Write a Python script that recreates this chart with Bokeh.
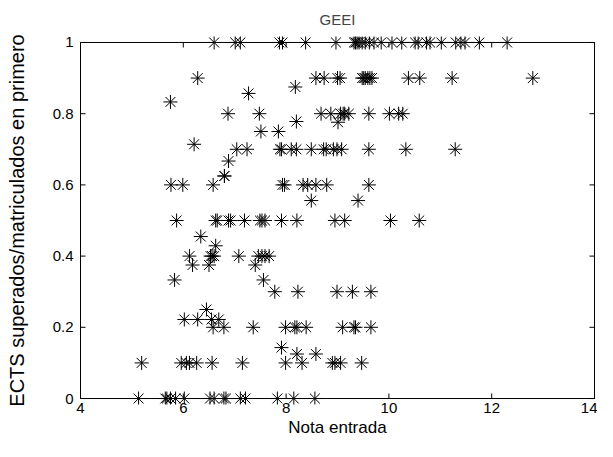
import math
from bokeh.plotting import figure
from bokeh.models import Range1d, LinearAxis, FixedTicker, ColumnDataSource
from bokeh.embed import file_html
from bokeh.resources import INLINE

# Entry grade (x) for each value of ratio (y) level
nota_y100 = [6.60, 7.01, 7.11, 7.87, 7.93, 8.38, 8.97, 9.32, 9.35, 9.38, 9.42, 9.48, 9.54, 9.62,
             9.71, 9.85, 10.06, 10.25, 10.51, 10.57, 10.73, 10.80, 11.02, 11.30, 11.40, 11.48, 11.76, 12.30]
nota_y090 = [6.28, 8.58, 8.74, 9.00, 9.05, 9.48, 9.51, 9.54, 9.59, 9.63, 9.67, 10.38, 10.60, 11.23, 12.80]
nota_y080 = [6.87, 7.48, 8.68, 8.87, 9.06, 9.11, 9.14, 9.22, 9.61, 10.01, 10.19, 10.27]
nota_y070 = [7.04, 7.24, 7.88, 7.91, 8.10, 8.20, 8.49, 8.73, 8.78, 8.92, 8.99, 9.08, 9.61, 10.33, 11.29]
nota_y060 = [5.76, 5.99, 6.58, 7.93, 7.97, 8.33, 8.42, 8.58, 8.79, 9.61]
nota_y050 = [5.87, 6.63, 6.66, 6.88, 6.92, 7.19, 7.49, 7.53, 7.59, 7.91, 8.21, 8.95, 9.14, 10.03, 10.59]
nota_y040 = [6.12, 6.53, 6.56, 6.60, 7.08, 7.46, 7.53, 7.59, 7.67]
nota_y030 = [7.78, 8.23, 8.99, 9.29, 9.65]
nota_y020 = [6.58, 6.79, 7.36, 7.99, 8.17, 8.21, 8.39, 9.10, 9.32, 9.35, 9.65]
nota_y010 = [5.19, 5.96, 6.06, 6.12, 6.26, 6.56, 7.15, 7.99, 8.31, 8.90, 8.95, 9.06, 9.47]
nota_y000 = [5.13, 5.65, 5.68, 5.75, 5.85, 6.02, 6.52, 6.60, 6.79, 6.83, 7.11, 7.21, 7.83, 8.15, 8.56]
levels = [1.0, 0.9, 0.8, 0.7, 0.6, 0.5, 0.4, 0.3, 0.2, 0.1, 0.0]

# Other (non-round) ratios
other_nota = [5.75, 7.27, 8.18, 8.20, 9.01, 7.51, 7.85, 6.21, 6.88, 6.80, 6.80, 8.49, 9.40, 6.34,
              6.63, 6.18, 6.50, 7.40, 5.83, 7.56, 6.45, 6.02, 6.28, 6.55, 6.69, 7.91, 8.21, 8.58]
other_ratio = [0.833, 0.857, 0.875, 0.778, 0.776, 0.75, 0.75, 0.714, 0.667, 0.625, 0.625, 0.556, 0.556, 0.455,
               0.429, 0.375, 0.375, 0.375, 0.333, 0.333, 0.25, 0.222, 0.222, 0.222, 0.222, 0.143, 0.125, 0.125]

x_ticks = [4, 6, 8, 10, 12, 14]
y_ticks = [0, 0.2, 0.4, 0.6, 0.8, 1]
y_tick_labels = {0: "0", 0.2: "0.2", 0.4: "0.4", 0.6: "0.6", 0.8: "0.8", 1: "1"}

rows = [nota_y100, nota_y090, nota_y080, nota_y070, nota_y060, nota_y050,
        nota_y040, nota_y030, nota_y020, nota_y010, nota_y000]
xs, ys = [], []
for lv, row in zip(levels, rows):
    xs += row
    ys += [lv] * len(row)
xs += other_nota
ys += other_ratio
src = ColumnDataSource(dict(x=xs, y=ys))

x_lo, x_hi = x_ticks[0], x_ticks[-1]
y_lo, y_hi = y_ticks[0], y_ticks[-1]

# frame geometry (px); a small margin keeps markers on the box edges whole
W, H = 597, 441
BOX_L, BOX_R, BOX_T, BOX_B = 80, 594, 41, 398
PAD_X, PAD_Y = 3, 6
px_x = (BOX_R - BOX_L) / (x_hi - x_lo)
px_y = (BOX_B - BOX_T) / (y_hi - y_lo)
x_pad = PAD_X / px_x
y_pad = PAD_Y / px_y

FONT = "Liberation Sans"
p = figure(width=W, height=H, output_backend="svg", toolbar_location=None,
           x_range=Range1d(x_lo - x_pad, x_hi + x_pad), y_range=Range1d(y_lo - y_pad, y_hi + y_pad),
           x_axis_location=None, y_axis_location=None,
           min_border_left=BOX_L - PAD_X, min_border_right=W - BOX_R - PAD_X,
           min_border_top=BOX_T - PAD_Y, min_border_bottom=H - BOX_B - PAD_Y,
           title="GEEI")
p.title.align = "center"
p.title.text_font = FONT
p.title.text_font_size = "15px"
p.title.text_font_style = "normal"
p.title.standoff = 17
p.grid.visible = False
p.outline_line_color = None

bottom = LinearAxis(ticker=FixedTicker(ticks=x_ticks), axis_label="Nota entrada")
left = LinearAxis(ticker=FixedTicker(ticks=y_ticks), axis_label="ECTS superados/matriculados en primero",
                  major_label_overrides=y_tick_labels)
for ax in [bottom, left]:
    ax.axis_line_color = None
    ax.major_tick_line_color = None
    ax.minor_tick_line_color = None
    ax.major_tick_in = 0
    ax.major_tick_out = 0
    ax.major_label_text_font = FONT
    ax.major_label_text_font_size = "15px"
    ax.major_label_text_color = "black"
    ax.axis_label_text_font = FONT
    ax.axis_label_text_font_style = "normal"
    ax.axis_label_text_color = "black"
bottom.axis_label_text_font_size = "17px"
left.axis_label_text_font_size = "20px"
bottom.major_label_standoff = -2
bottom.axis_label_standoff = 2
left.major_label_standoff = 4
left.axis_label_standoff = 22
p.add_layout(bottom, "below")
p.add_layout(left, "left")

# axes box (MATLAB style)
p.line(x=[x_lo, x_hi, x_hi, x_lo, x_lo], y=[y_lo, y_lo, y_hi, y_hi, y_lo],
       line_color="black", line_width=1)

# inward ticks of 5 px on all four sides
TICK = 5
p.ray(x=x_ticks, y=[y_lo] * len(x_ticks), length=TICK, length_units="screen",
      angle=math.pi / 2, line_color="black", line_width=1)
p.ray(x=x_ticks, y=[y_hi] * len(x_ticks), length=TICK, length_units="screen",
      angle=-math.pi / 2, line_color="black", line_width=1)
p.ray(x=[x_lo] * len(y_ticks), y=y_ticks, length=TICK, length_units="screen",
      angle=0, line_color="black", line_width=1)
p.ray(x=[x_hi] * len(y_ticks), y=y_ticks, length=TICK, length_units="screen",
      angle=math.pi, line_color="black", line_width=1)

p.scatter("x", "y", source=src, marker="asterisk", size=14, line_color="black", line_width=1)

open("out.html", "w").write(file_html(p, INLINE))
